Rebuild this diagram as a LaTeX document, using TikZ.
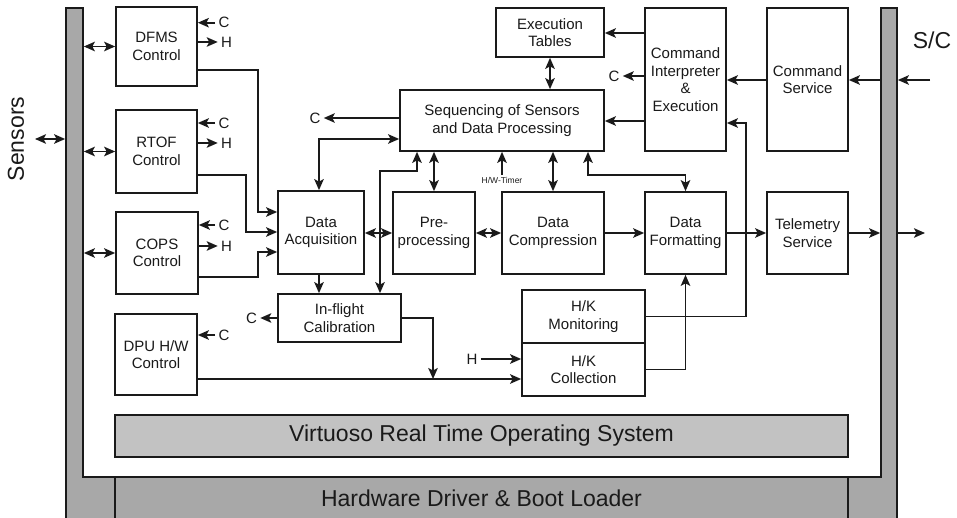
\documentclass[tikz,border=0pt]{standalone}
\usepackage{fontspec}
\setmainfont{Liberation Sans}
\usetikzlibrary{arrows.meta}
\definecolor{bargray}{HTML}{A8A8A8}
\definecolor{osgray}{HTML}{C2C2C2}
\definecolor{ink}{HTML}{1A1A1A}
\begin{document}
\begin{tikzpicture}[x=1pt,y=-1pt,color=ink,line width=1.7pt,
  >={Stealth[length=11pt,width=9.5pt,inset=2.5pt]},
  box/.style={draw=ink,fill=white,line width=1.7pt,inner sep=0pt,align=center,
              font=\fontsize{15}{17.5}\selectfont},
  lbl/.style={inner sep=2.5pt,font=\fontsize{15}{17}\selectfont},
  tiny/.style={inner sep=1pt,font=\fontsize{8.5}{10}\selectfont},
  big/.style={inner sep=0pt,font=\fontsize{23}{26}\selectfont},
  bignode/.style={box,font=\fontsize{23}{26}\selectfont}]
\useasboundingbox (0,0) rectangle (957,518);
% frame
\filldraw[fill=bargray,draw=ink,line width=1.5pt]
  (66,8) -- (83,8) -- (83,477) -- (881,477) -- (881,8) -- (897,8) -- (897,519) -- (66,519) -- cycle;
\node[inner sep=0pt,minimum width=17pt,minimum height=510pt] (lbar) at (74.5,263) {};
\node[inner sep=0pt,minimum width=16pt,minimum height=510pt] (rbar) at (889,263) {};
\node[bignode,fill=bargray,line width=1.5pt,minimum width=733pt,minimum height=42pt] (hw) at (481.5,498) {Hardware Driver \& Boot Loader};
\node[bignode,fill=osgray,line width=1.5pt,minimum width=733pt,minimum height=42pt] (rtos) at (481.5,436) {Virtuoso Real Time Operating System};
% outside labels
\node[big,rotate=90] (sensors) at (16,139) {Sensors};
\node[big] (sc) at (932,40) {S/C};
% boxes
\node[box,minimum width=81pt,minimum height=79pt] (dfms) at (156.5,46.5) {DFMS\\Control};
\node[box,minimum width=81pt,minimum height=83pt] (rtof) at (156.5,151.5) {RTOF\\Control};
\node[box,minimum width=82pt,minimum height=82pt] (cops) at (157,253) {COPS\\Control};
\node[box,minimum width=82pt,minimum height=81pt] (dpu) at (156,354.5) {DPU H/W\\Control};
\node[box,minimum width=86pt,minimum height=83pt] (daq) at (321,232.5) {Data\\Acquisition};
\node[box,minimum width=123pt,minimum height=48pt] (cal) at (339.5,318) {In-flight\\Calibration};
\node[box,minimum width=204pt,minimum height=61pt] (seq) at (502,120.5) {Sequencing of Sensors\\and Data Processing};
\node[box,minimum width=108pt,minimum height=49pt] (exec) at (550,32.5) {Execution\\Tables};
\node[box,minimum width=81pt,minimum height=143pt] (cmd) at (685.5,79.5) {Command\\Interpreter\\\&\\Execution};
\node[box,minimum width=81pt,minimum height=143pt] (csvc) at (807.5,79.5) {Command\\Service};
\node[box,minimum width=82pt,minimum height=82pt] (pre) at (434,233) {Pre-\\processing};
\node[box,minimum width=102pt,minimum height=82pt] (comp) at (553,233) {Data\\Compression};
\node[box,minimum width=81pt,minimum height=82pt] (fmt) at (685.5,233) {Data\\Formatting};
\node[box,minimum width=81pt,minimum height=82pt] (tel) at (807.5,233) {Telemetry\\Service};
\node[box,minimum width=123pt,minimum height=53pt] (hkm) at (583.5,316.5) {H/K\\Monitoring};
\node[box,minimum width=123pt,minimum height=53pt] (hkc) at (583.5,369.5) {H/K\\Collection};
% small labels
\node[lbl] (c1) at (224,22.7) {C};
\node[lbl] (h1) at (226.5,42) {H};
\node[lbl] (c2) at (224,123) {C};
\node[lbl] (h2) at (226.5,143) {H};
\node[lbl] (c3) at (224,225) {C};
\node[lbl] (h3) at (226.5,246) {H};
\node[lbl] (c4) at (224,335) {C};
\node[lbl] (ccal) at (251.5,318) {C};
\node[lbl] (cseq) at (315,118) {C};
\node[lbl] (ccmd) at (614,76) {C};
\node[lbl] (hhk) at (472,359) {H};
\node[tiny] (hwt) at (502,180) {H/W-Timer};
\coordinate (sensend) at (35,139);
\coordinate (scin) at (930,80);
\coordinate (scout) at (925,233);
% connectors
\draw[<->] (sensend) -- (lbar.west |- sensend);
\draw[<->] (lbar.east |- dfms.west) -- (dfms.west);
\draw[<->] (lbar.east |- rtof.west) -- (rtof.west);
\draw[<->] (lbar.east |- cops.west) -- (cops.west);
\draw[->] (c1.west) -- (dfms.east |- c1.west);
\draw[->] (dfms.east |- h1.west) -- (h1.west);
\draw[->] (c2.west) -- (rtof.east |- c2.west);
\draw[->] (rtof.east |- h2.west) -- (h2.west);
\draw[->] (c3.west) -- (cops.east |- c3.west);
\draw[->] (cops.east |- h3.west) -- (h3.west);
\draw[->] (c4.west) -- (dpu.east |- c4.west);
\draw[->] (dfms.east |- 0,70) -| (258,212) -- (daq.west |- 0,212);
\draw[->] (rtof.east |- 0,175) -| (246,232) -- (daq.west |- 0,232);
\draw[->] (cops.east |- 0,277) -| (258,252) -- (daq.west |- 0,252);
\draw[->] (daq.south -| 319,0) -- (cal.north -| 319,0);
\draw[->] (cal.west) -- (ccal.east);
\draw[<->] (seq.west |- 0,139) -| (daq.north -| 319,0);
\draw[->] (seq.west |- 0,118) -- (cseq.east);
\draw[<->] (seq.south -| 417,0) -- (417,171) -- (380,171) -- (cal.north -| 380,0);
\draw[<->] (seq.south -| pre.north) -- (pre.north);
\draw[<->] (seq.south -| comp.north) -- (comp.north);
\draw[->] (hwt.north) -- (seq.south -| hwt.north);
\draw[<->] (seq.south -| 588,0) -- (588,175) -| (fmt.north);
\draw[<->] (exec.south) -- (seq.north -| exec.south);
\draw[->] (cmd.west |- 0,33) -- (exec.east |- 0,33);
\draw[->] (cmd.west |- 0,76) -- (ccmd.east);
\draw[->] (cmd.west |- 0,121) -- (seq.east |- 0,121);
\draw[->] (csvc.west |- 0,80) -- (cmd.east |- 0,80);
\draw[->] (rbar.west |- 0,80) -- (csvc.east |- 0,80);
\draw[->] (scin) -- (rbar.east |- scin);
\draw[<->] (daq.east |- 0,233) -- (pre.west |- 0,233);
\draw[<->] (pre.east |- 0,233) -- (comp.west |- 0,233);
\draw[->] (comp.east |- 0,233) -- (fmt.west |- 0,233);
\draw[->] (fmt.east |- 0,233) -- (tel.west |- 0,233);
\draw[->] (tel.east |- 0,233) -- (rbar.west |- 0,233);
\draw[->] (rbar.east |- scout) -- (scout);
\draw[->] (hkm.east) -- (746,316.5) |- (cmd.east |- 0,123);
\draw[->] (hkc.east) -| (fmt.south);
\draw[->] (hhk.east) -- (hkc.west |- hhk.east);
\draw[->] (dpu.east |- 0,379) -- (hkc.west |- 0,379);
\draw[->] (cal.east) -| (433,379);
\end{tikzpicture}
\end{document}
